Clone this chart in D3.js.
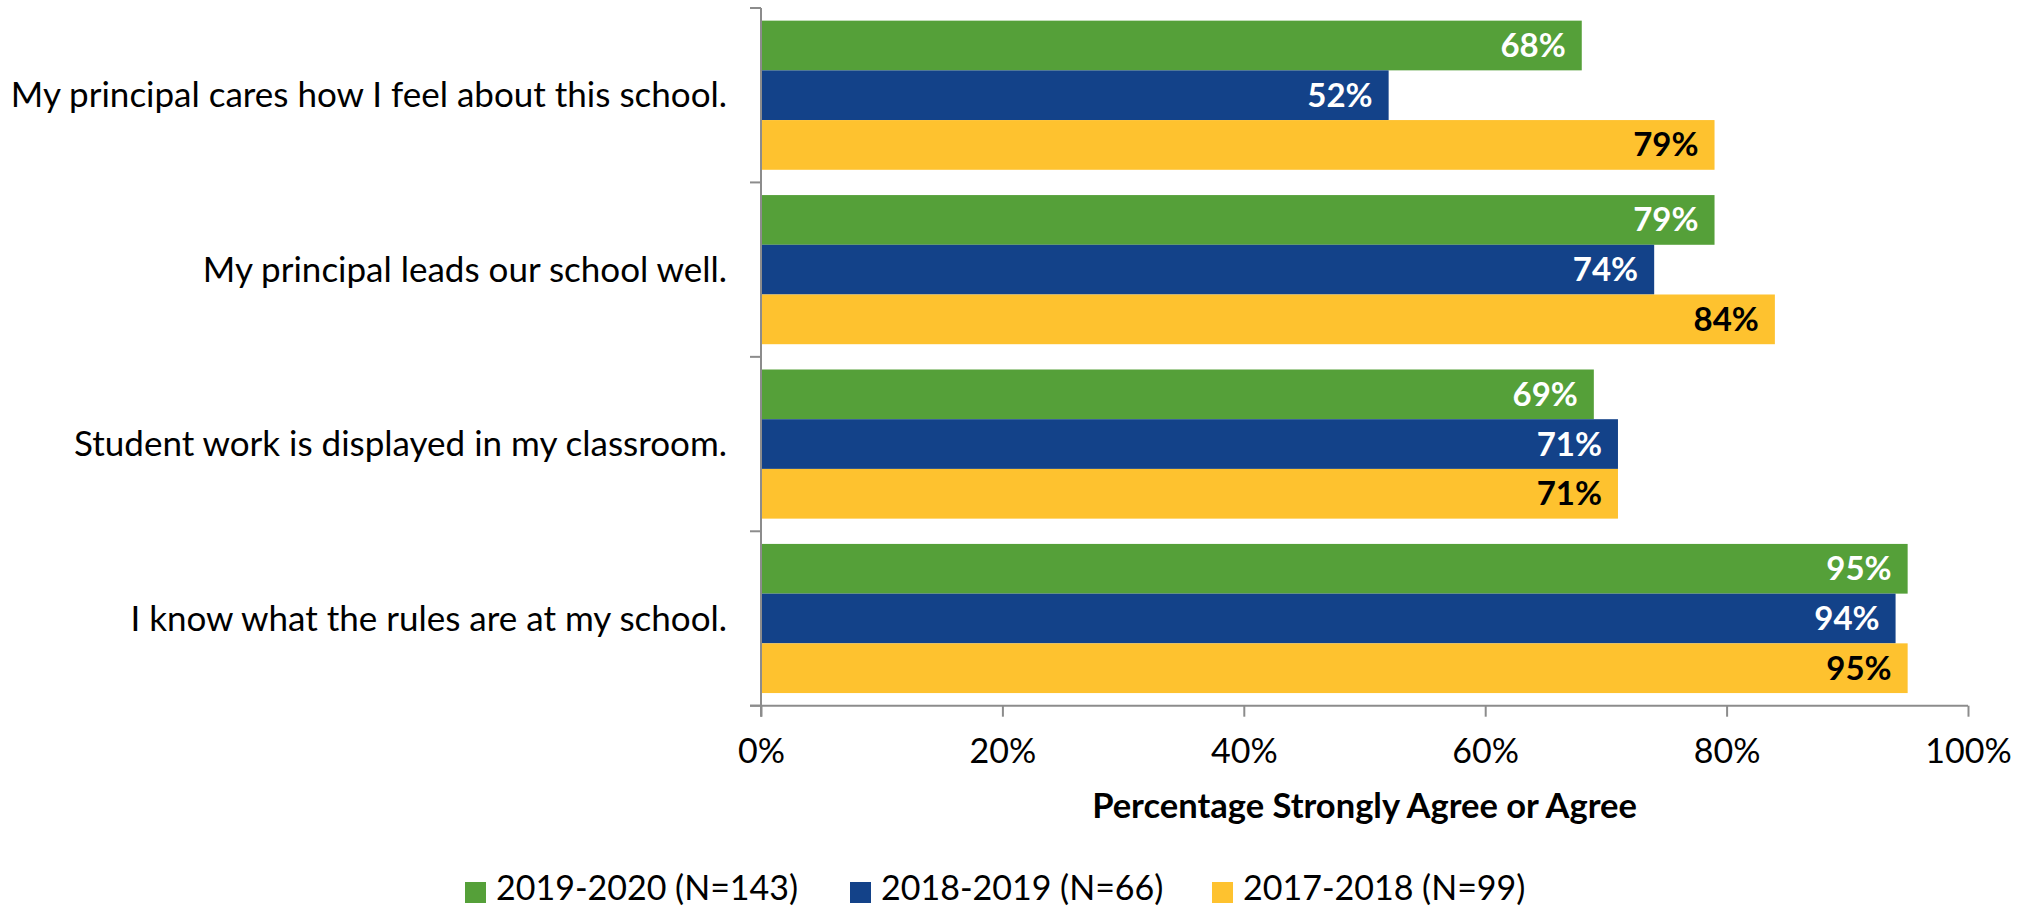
<!DOCTYPE html>
<html>
<head>
<meta charset="utf-8">
<script src="https://cdn.jsdelivr.net/npm/d3@7"></script>
<style>
  html, body { margin: 0; padding: 0; background: #fff; }
  svg { display: block; }
  text { font-family: Lato, "Open Sans", sans-serif; }
</style>
</head>
<body>
<svg id="chart" width="2028" height="909"></svg>
<script>
const categories = [
  "My principal cares how I feel about this school.",
  "My principal leads our school well.",
  "Student work is displayed in my classroom.",
  "I know what the rules are at my school."
];
const seriesNames = ["2019-2020 (N=143)", "2018-2019 (N=66)", "2017-2018 (N=99)"];
const values2019_2020 = [68, 79, 69, 95];
const values2018_2019 = [52, 74, 71, 94];
const values2017_2018 = [79, 84, 71, 95];
const tickValues = [0, 20, 40, 60, 80, 100];
const xAxisTitle = "Percentage Strongly Agree or Agree";

(function () {
const seriesValues = [values2019_2020, values2018_2019, values2017_2018];
const colors = ["#55a039", "#134289", "#fec22f"];
const labelColors = ["#ffffff", "#ffffff", "#000000"];

const svg = d3.select("#chart");
const plotLeft = 761, plotRight = 1968, plotTop = 8, plotBottom = 705.7;

const x = d3.scaleLinear().domain([0, 100]).range([plotLeft, plotRight]);
const y = d3.scaleBand().domain(categories).range([plotTop, plotBottom])
  .paddingInner(0.145).paddingOuter(0.0725);
const ys = d3.scaleBand().domain(seriesNames).range([0, y.bandwidth()]);

const axisColor = "#8c8c8c";

// bars
const groups = svg.append("g").selectAll("g")
  .data(categories).join("g")
  .attr("transform", d => `translate(0,${y(d)})`);

groups.each(function(cat, ci) {
  const g = d3.select(this);
  seriesNames.forEach((s, si) => {
    const v = seriesValues[si][ci];
    g.append("rect")
      .attr("x", x(0))
      .attr("y", ys(s))
      .attr("width", x(v) - x(0))
      .attr("height", ys.bandwidth())
      .attr("fill", colors[si]);
    g.append("text")
      .attr("x", x(v) - 16)
      .attr("y", ys(s) + ys.bandwidth() / 2)
      .attr("dy", "0.35em")
      .attr("text-anchor", "end")
      .attr("font-size", 33)
      .attr("font-weight", "bold")
      .attr("fill", labelColors[si])
      .text(v + "%");
  });
});

// y axis: line plus ticks at band boundaries
const yBoundaries = categories.map(c => y(c) - y.step() * y.paddingInner() / 2);
yBoundaries.push(plotBottom);
svg.append("line")
  .attr("x1", plotLeft).attr("x2", plotLeft)
  .attr("y1", plotTop).attr("y2", plotBottom + 11)
  .attr("stroke", axisColor).attr("stroke-width", 2);
svg.append("g").selectAll("line").data(yBoundaries).join("line")
  .attr("x1", plotLeft - 11).attr("x2", plotLeft)
  .attr("y1", d => d).attr("y2", d => d)
  .attr("stroke", axisColor).attr("stroke-width", 2);

// category labels
svg.append("g").selectAll("text").data(categories).join("text")
  .attr("x", 727)
  .attr("y", d => y(d) + y.bandwidth() / 2)
  .attr("dy", "0.35em")
  .attr("text-anchor", "end")
  .attr("font-size", 35)
  .attr("fill", "#000")
  .text(d => d);

// x axis
const xAxis = d3.axisBottom(x).tickValues(tickValues)
  .tickFormat(d => d + "%").tickSize(11).tickSizeOuter(0);
const xg = svg.append("g").attr("transform", `translate(0,${plotBottom})`).call(xAxis);
xg.select(".domain").remove();
xg.selectAll(".tick line").attr("stroke", axisColor).attr("stroke-width", 2);
xg.selectAll(".tick text")
  .attr("font-size", 34)
  .attr("font-family", "Lato, sans-serif")
  .attr("fill", "#000")
  .attr("y", 57).attr("dy", 0);
svg.append("line")
  .attr("x1", plotLeft - 11).attr("x2", plotRight)
  .attr("y1", plotBottom).attr("y2", plotBottom)
  .attr("stroke", axisColor).attr("stroke-width", 2);

// axis title
svg.append("text")
  .attr("x", (plotLeft + plotRight) / 2)
  .attr("y", 818)
  .attr("text-anchor", "middle")
  .attr("font-size", 34.5)
  .attr("font-weight", "bold")
  .attr("fill", "#000")
  .text(xAxisTitle);

// legend
const legendX = [465, 850, 1212];
const lg = svg.append("g").selectAll("g").data(seriesNames).join("g")
  .attr("transform", (d, i) => `translate(${legendX[i]},0)`);
lg.append("rect").attr("x", 0).attr("y", 882).attr("width", 21).attr("height", 21)
  .attr("fill", (d, i) => colors[i]);
lg.append("text").attr("x", 31).attr("y", 900)
  .attr("font-size", 34).attr("fill", "#000").text(d => d);
})();
</script>
</body>
</html>
